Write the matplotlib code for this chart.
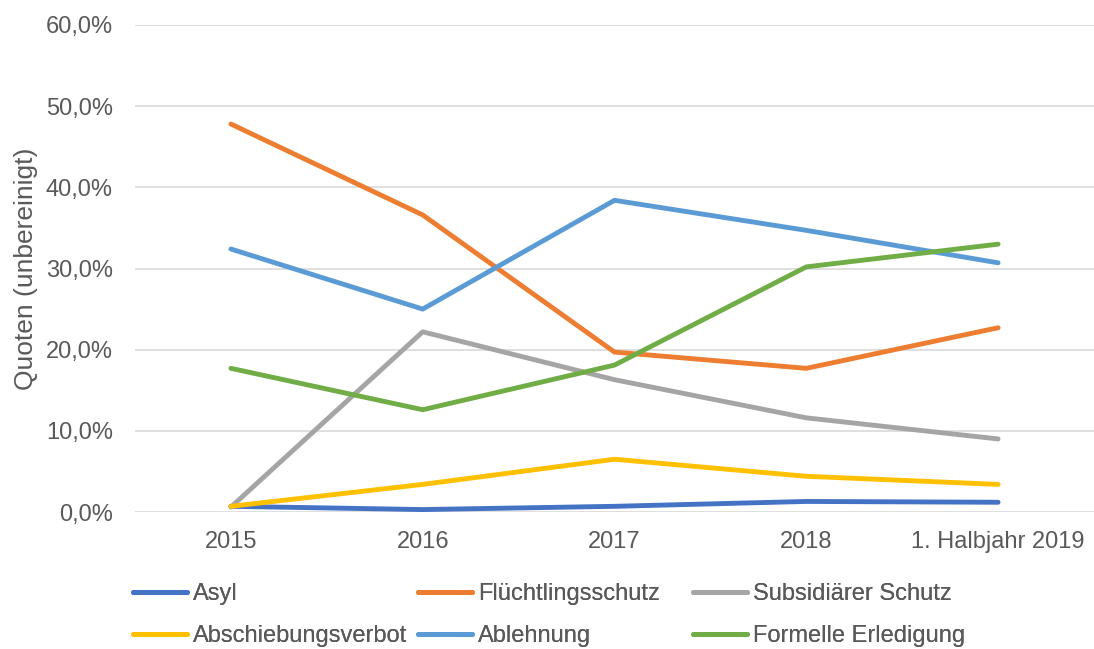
import matplotlib.pyplot as plt
from matplotlib.ticker import FuncFormatter

plt.rcParams['font.family'] = ['Liberation Sans', 'DejaVu Sans']

years = ['2015', '2016', '2017', '2018', '1. Halbjahr 2019']
asyl = [0.7, 0.3, 0.7, 1.3, 1.2]
fluechtling = [47.8, 36.6, 19.7, 17.7, 22.7]
subsidiaer = [0.6, 22.2, 16.3, 11.6, 9.0]
abschiebung = [0.7, 3.4, 6.5, 4.4, 3.4]
ablehnung = [32.4, 25.0, 38.4, 34.7, 30.7]
formell = [17.7, 12.6, 18.1, 30.2, 33.0]

series = [
    ('Asyl', asyl, '#4472C4'),
    ('Flüchtlingsschutz', fluechtling, '#ED7D31'),
    ('Subsidiärer Schutz', subsidiaer, '#A5A5A5'),
    ('Abschiebungsverbot', abschiebung, '#FFC000'),
    ('Ablehnung', ablehnung, '#5B9BD5'),
    ('Formelle Erledigung', formell, '#70AD47'),
]

txt = '#595959'
fs = 17
fig = plt.figure(figsize=(10.94, 6.49), dpi=100)
ax = fig.add_axes([135 / 1094, 1 - 512 / 649, 959 / 1094, 487 / 649])

x = range(len(years))
lines = {}
for name, vals, col in series:
    lines[name], = ax.plot(x, vals, color=col, lw=3.5, solid_capstyle='round',
                           solid_joinstyle='round', label=name)

ax.set_xlim(-0.5, len(years) - 0.5)
ax.set_ylim(0, 60)
ax.set_yticks(range(0, 61, 10))
ax.yaxis.set_major_formatter(FuncFormatter(lambda v, p: f'{v:.1f}%'.replace('.', ',')))
ax.set_xticks(list(x))
ax.set_xticklabels(years)
ax.grid(axis='y', color='#D9D9D9', lw=1.2)
ax.set_axisbelow(True)
for s in ax.spines.values():
    s.set_visible(False)
ax.tick_params(length=0, labelsize=fs, colors=txt)
ax.tick_params(axis='x', pad=14)
ax.tick_params(axis='y', pad=16)
ax.set_ylabel('Quoten (unbereinigt)', fontsize=19, color=txt)
ax.yaxis.set_label_coords(-0.101, 0.5)

# Excel legend: three fixed-width columns, two rows
cols = [('Asyl', 'Abschiebungsverbot'),
        ('Flüchtlingsschutz', 'Ablehnung'),
        ('Subsidiärer Schutz', 'Formelle Erledigung')]
col_x = [133, 418, 693]
for names, cx in zip(cols, col_x):
    leg = fig.legend([lines[n] for n in names], names, loc='upper left',
                     bbox_to_anchor=(cx / 1094, 1 - 583 / 649), frameon=False,
                     fontsize=fs, labelcolor=txt, handlelength=2.3,
                     handletextpad=0.25, labelspacing=0.85, borderpad=0,
                     borderaxespad=0)
    fig.add_artist(leg)

fig.savefig('out.png', dpi=100)
